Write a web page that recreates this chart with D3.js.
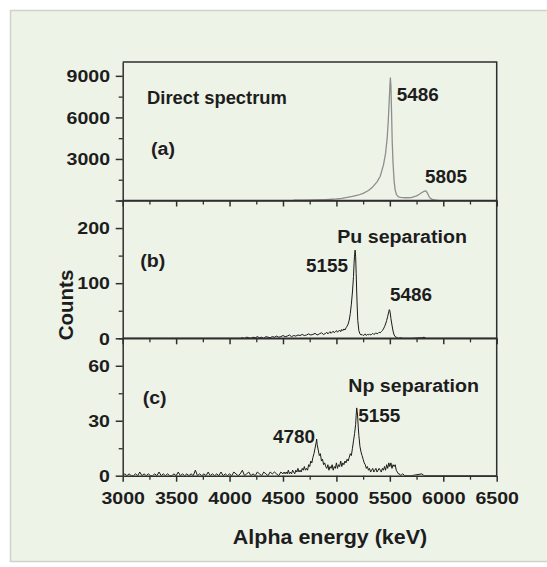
<!DOCTYPE html>
<html>
<head>
<meta charset="utf-8">
<script src="https://cdn.jsdelivr.net/npm/d3@7"></script>
<style>
  html, body { margin: 0; padding: 0; background: #ffffff; }
  svg { display: block; }
  text { font-family: "Liberation Sans", Arial, Helvetica, sans-serif; font-weight: bold; fill: #1d1d1d; }
</style>
</head>
<body>
<svg id="chart" width="547" height="567"></svg>
<script>
// ---- Alpha spectra: [energy keV, counts] ----
const spectrumA = [
  [4600,20],[4700,30],[4800,45],[4900,70],[4950,90],[5000,120],[5050,160],[5100,220],
  [5150,290],[5200,380],[5250,520],[5300,720],[5340,980],[5380,1350],[5410,1750],
  [5440,2550],[5460,3400],[5475,4500],[5485,5700],[5493,7000],[5500,8200],[5505,8850],
  [5510,8300],[5516,6400],[5522,4300],[5530,2700],[5540,1400],[5550,750],[5562,420],
  [5580,270],[5600,230],[5650,200],[5700,210],[5750,330],[5780,470],[5800,580],
  [5820,660],[5835,700],[5845,620],[5855,480],[5865,300],[5880,150],[5900,70],
  [5930,20],[5960,0]
];

const spectrumB = [
  [3000,0],[4100,0],[4120,1],[4140,0],[4160,2],[4180,1],[4200,0],[4220,2],[4240,1],
  [4260,3],[4280,1],[4300,2],[4320,0],[4340,3],[4360,2],[4380,1],[4400,3],[4420,2],
  [4440,4],[4460,2],[4480,3],[4500,5],[4520,3],[4540,4],[4560,6],[4580,3],[4600,5],
  [4620,4],[4640,6],[4660,5],[4680,7],[4700,5],[4720,6],[4740,8],[4760,6],[4780,7],
  [4800,9],[4820,6],[4840,8],[4860,10],[4880,7],[4900,9],[4910,11],[4920,8],[4930,10],
  [4940,12],[4950,9],[4960,11],[4970,13],[4980,10],[4990,12],[5000,14],[5010,11],
  [5020,13],[5030,15],[5040,12],[5050,16],[5060,14],[5070,17],[5080,15],[5090,19],
  [5100,22],[5110,26],[5120,33],[5130,45],[5140,62],[5150,84],[5160,112],[5165,135],
  [5170,152],[5175,160],[5180,148],[5185,118],[5190,84],[5195,55],[5200,32],[5210,14],
  [5220,8],[5230,6],[5240,7],[5250,5],[5260,6],[5270,8],[5280,5],[5290,7],[5300,6],
  [5310,8],[5320,6],[5330,7],[5340,9],[5350,7],[5360,8],[5370,10],[5380,8],[5390,9],
  [5400,11],[5410,10],[5420,12],[5430,14],[5440,17],[5450,21],[5460,26],[5470,32],
  [5480,40],[5490,48],[5495,52],[5500,50],[5505,44],[5510,36],[5520,24],[5530,13],
  [5540,6],[5550,3],[5560,2],[5570,1],[5580,0],[5600,1],[5620,0],[5700,0],[5800,1],
  [5820,2],[5840,0],[6500,0]
];

const spectrumC = [
  [3000,0],[3020,1],[3040,0],[3060,1],[3080,0],[3100,0],[3120,1],[3140,0],[3160,2],
  [3180,0],[3200,1],[3220,0],[3240,1],[3260,0],[3280,0],[3300,1],[3320,0],[3340,2],
  [3360,0],[3380,1],[3400,0],[3420,1],[3440,0],[3460,0],[3480,1],[3500,0],[3520,2],
  [3540,0],[3560,1],[3580,0],[3600,1],[3620,0],[3640,1],[3660,0],[3680,3],[3700,0],
  [3720,1],[3740,0],[3760,1],[3780,0],[3800,2],[3820,0],[3840,1],[3860,0],[3880,1],
  [3900,0],[3920,2],[3940,0],[3960,1],[3980,0],[4000,1],[4020,0],[4040,2],[4060,1],
  [4080,0],[4100,1],[4120,3],[4140,0],[4160,1],[4180,2],[4200,0],[4220,1],[4240,0],
  [4260,2],[4280,1],[4300,0],[4320,2],[4340,1],[4360,0],[4380,2],[4400,1],[4420,2],
  [4440,1],[4460,0],[4480,2],[4500,1],[4510,2],[4520,1],[4530,2],[4540,1],[4550,3],
  [4560,1],[4570,2],[4580,1],[4590,3],[4600,2],[4610,1],[4620,3],[4630,2],[4640,4],
  [4650,2],[4660,3],[4670,2],[4680,4],[4690,3],[4700,5],[4710,3],[4720,4],[4730,3],
  [4740,6],[4750,5],[4760,8],[4770,7],[4780,10],[4790,12],[4800,15],[4810,18],[4815,20],
  [4820,17],[4830,14],[4840,11],[4850,12],[4860,8],[4870,9],[4880,6],[4890,7],[4900,5],
  [4910,4],[4920,6],[4930,3],[4940,5],[4950,4],[4960,6],[4970,3],[4980,5],[4990,4],
  [5000,7],[5010,4],[5020,6],[5030,5],[5040,8],[5050,5],[5060,7],[5070,6],[5080,8],
  [5090,7],[5100,9],[5110,8],[5120,10],[5130,12],[5140,11],[5150,15],[5160,19],[5170,23],
  [5180,28],[5185,33],[5190,37],[5195,35],[5200,31],[5205,26],[5210,22],[5220,16],
  [5230,13],[5240,11],[5250,9],[5260,7],[5270,6],[5280,4],[5290,5],[5300,3],[5310,4],
  [5320,2],[5330,3],[5340,4],[5350,2],[5360,3],[5370,4],[5380,2],[5390,3],[5400,4],
  [5410,3],[5420,2],[5430,4],[5440,3],[5450,5],[5460,3],[5470,6],[5480,4],[5490,7],
  [5500,5],[5510,7],[5520,4],[5530,6],[5540,5],[5550,6],[5560,3],[5570,2],[5580,1],
  [5590,1],[5600,0],[5620,1],[5640,0],[5700,0],[5800,1],[5820,0],[6500,0]
];

// ---- Axis ticks ----
const xDomain = [3000, 6500];
const xMajor = [3000, 3500, 4000, 4500, 5000, 5500, 6000, 6500];
const xMinor = [3250, 3750, 4250, 4750, 5250, 5750, 6250];
const yMaxA = 10000, yMajorA = [0, 3000, 6000, 9000], yLabelA = [3000, 6000, 9000], yMinorA = [1500, 4500, 7500];
const yMaxB = 250,   yMajorB = [0, 100, 200],          yLabelB = [0, 100, 200],       yMinorB = [50, 150, 250];
const yMaxC = 75,    yMajorC = [0, 30, 60],            yLabelC = [0, 30, 60],         yMinorC = [15, 45, 75];

// ---- Texts ----
const titlesA = ["Direct spectrum", "(a)"], peaksA = ["5486", "5805"];
const titlesB = ["Pu separation", "(b)"],   peaksB = ["5155", "5486"];
const titlesC = ["Np separation", "(c)"],   peaksC = ["4780", "5155"];
const xTitle = "Alpha energy (keV)";
const yTitle = "Counts";

// ---- Layout ----
const svg = d3.select("#chart");
const plotL = 122.7, plotR = 496.7;
const axisColor = "#2f2f2f";

svg.append("rect")
  .attr("x", 10.5).attr("y", 10.5).attr("width", 560).attr("height", 551)
  .attr("fill", "#eef3e8").attr("stroke", "#cfd3cb").attr("stroke-width", 1.5);

const x = d3.scaleLinear().domain(xDomain).range([plotL, plotR]);

// stretch a text horizontally to the wider lettering of the figure
function widen(node, k) {
  const w = node.getComputedTextLength();
  d3.select(node).attr("textLength", w * k).attr("lengthAdjust", "spacingAndGlyphs");
  return w * k;
}

function label(g, str, px, py, size, k) {
  const t = g.append("text").attr("x", px).attr("y", py).attr("font-size", size).text(str);
  widen(t.node(), k);
  return t;
}

const panels = [
  { top: 62,    bottom: 200.5, max: yMaxA, major: yMajorA, labels: yLabelA, minor: yMinorA,
    data: spectrumA, color: "#8e8e8e", width: 1.3,
    titles: titlesA, titlePos: [[147, 104], [151, 155]], titleK: [1.05, 1.12],
    peaks: peaksA, peakPos: [[396.7, 100.5], [425, 182.7]] },
  { top: 200.5, bottom: 338.3, max: yMaxB, major: yMajorB, labels: yLabelB, minor: yMinorB,
    data: spectrumB, color: "#1a1a1a", width: 1.0,
    titles: titlesB, titlePos: [[337.3, 243.3], [140.3, 266.7]], titleK: [1.12, 1.12],
    peaks: peaksB, peakPos: [[306, 272.3], [390, 301]] },
  { top: 338.3, bottom: 475.7, max: yMaxC, major: yMajorC, labels: yLabelC, minor: yMinorC,
    data: spectrumC, color: "#1a1a1a", width: 1.0,
    titles: titlesC, titlePos: [[348.3, 391.7], [142.7, 404]], titleK: [1.12, 1.12],
    peaks: peaksC, peakPos: [[273, 443.3], [358.3, 421.7]] }
];

panels.forEach((p, i) => {
  const y = d3.scaleLinear().domain([0, p.max]).range([p.bottom, p.top]);
  const last = i === panels.length - 1;
  const clipId = "clip" + i;

  svg.append("clipPath").attr("id", clipId)
    .append("rect").attr("x", plotL).attr("y", p.top - 1)
    .attr("width", plotR - plotL).attr("height", p.bottom - p.top + 1);

  // spectrum trace
  svg.append("path")
    .datum(p.data)
    .attr("clip-path", `url(#${clipId})`)
    .attr("fill", "none")
    .attr("stroke", p.color)
    .attr("stroke-width", p.width)
    .attr("stroke-linejoin", "round")
    .attr("d", d3.line().x(d => x(d[0])).y(d => y(d[1])));

  // frame top / right
  svg.append("path")
    .attr("d", `M${plotL},${p.top}H${plotR}V${p.bottom}`)
    .attr("fill", "none").attr("stroke", axisColor).attr("stroke-width", 1.5);

  // left axis: major ticks + labels
  const gl = svg.append("g").attr("transform", `translate(${plotL},0)`)
    .call(d3.axisLeft(y).tickValues(p.major).tickSize(7).tickSizeOuter(0)
      .tickFormat(d => p.labels.includes(d) ? d3.format("d")(d) : ""));
  gl.selectAll("path.domain").attr("stroke", axisColor).attr("stroke-width", 1.5);
  gl.selectAll(".tick line").attr("stroke", axisColor).attr("stroke-width", 1.5);
  gl.selectAll(".tick text").attr("font-size", 17).attr("fill", "#1d1d1d")
    .attr("font-family", null).each(function () {
      const w = widen(this, 1.15);
      d3.select(this).attr("text-anchor", "start").attr("x", -12.7 - w).attr("dy", "0.34em");
    });

  // left axis: minor ticks
  const glm = svg.append("g").attr("transform", `translate(${plotL},0)`)
    .call(d3.axisLeft(y).tickValues(p.minor).tickSize(4).tickFormat(""));
  glm.select("path.domain").remove();
  glm.selectAll(".tick line").attr("stroke", axisColor).attr("stroke-width", 1.3);

  // bottom axis: major ticks (labels on the last panel only)
  const gb = svg.append("g").attr("transform", `translate(0,${p.bottom})`)
    .call(d3.axisBottom(x).tickValues(xMajor).tickSize(6).tickSizeOuter(0)
      .tickFormat(last ? d3.format("d") : ""));
  gb.selectAll("path.domain").attr("stroke", axisColor).attr("stroke-width", 1.5);
  gb.selectAll(".tick line").attr("stroke", axisColor).attr("stroke-width", 1.5);
  gb.selectAll(".tick text").attr("font-size", 17).attr("fill", "#1d1d1d")
    .attr("font-family", null).each(function () {
      const w = widen(this, 1.15);
      d3.select(this).attr("text-anchor", "start").attr("x", -w / 2).attr("y", 16).attr("dy", "0.71em");
    });

  // bottom axis: minor ticks
  const gbm = svg.append("g").attr("transform", `translate(0,${p.bottom})`)
    .call(d3.axisBottom(x).tickValues(xMinor).tickSize(4).tickFormat(""));
  gbm.select("path.domain").remove();
  gbm.selectAll(".tick line").attr("stroke", axisColor).attr("stroke-width", 1.3);

  // panel titles and peak energies
  const ga = svg.append("g");
  p.titles.forEach((t, j) => label(ga, t, p.titlePos[j][0], p.titlePos[j][1], 17.5, p.titleK[j]));
  p.peaks.forEach((t, j) => label(ga, t, p.peakPos[j][0], p.peakPos[j][1], 17.5, 1.08));
});

// axis titles
const gx = svg.append("g");
const xt = gx.append("text").attr("y", 544).attr("font-size", 19.5).text(xTitle);
const xtw = widen(xt.node(), 1.1);
xt.attr("x", 330 - xtw / 2);

const gy = svg.append("g").attr("transform", "translate(72.5,305) rotate(-90)");
const yt = gy.append("text").attr("y", 0).attr("font-size", 19.5).text(yTitle);
const ytw = widen(yt.node(), 1.05);
yt.attr("x", -ytw / 2);
</script>
</body>
</html>
